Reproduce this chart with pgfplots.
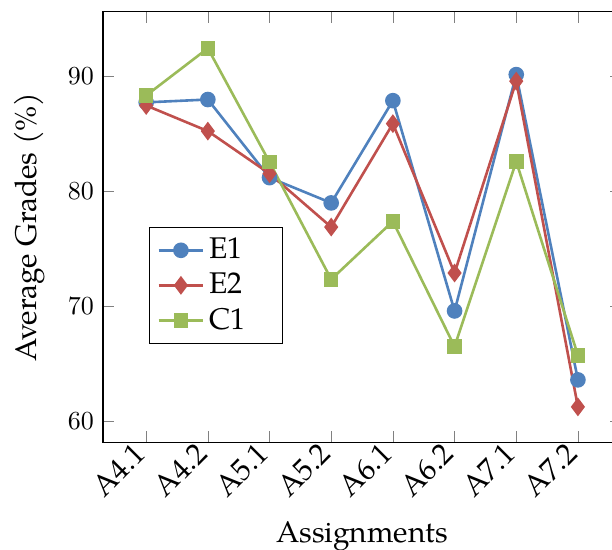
\documentclass[border=0pt]{standalone}
\usepackage{fontspec}
\setmainfont{TeX Gyre Pagella}
\usepackage{pgfplots}
\pgfplotsset{compat=1.18}
\definecolor{cblue}{HTML}{4F81BD}
\definecolor{cred}{HTML}{C0504D}
\definecolor{cgreen}{HTML}{9BBB59}
\newcommand{\lblfont}{\fontsize{11.5}{13.8}\selectfont}
\begin{document}
\begin{tikzpicture}
\begin{axis}[
  scale only axis,
  width=199.2pt, height=165.4pt,
  xmin=-0.7, xmax=7.7,
  ymin=58.18, ymax=95.62,
  xtick={0,1,2,3,4,5,6,7},
  xticklabels={A4.1,A4.2,A5.1,A5.2,A6.1,A6.2,A7.1,A7.2},
  xticklabel style={rotate=45, anchor=east, font=\lblfont},
  ytick={60,70,80,90},
  xlabel={Assignments},
  ylabel={Average Grades (\%)},
  xlabel style={font=\lblfont, at={(axis description cs:0.5,-0.2328)}, anchor=base},
  ylabel style={font=\lblfont, at={(axis description cs:-0.1275,0.5)}, anchor=base},
  legend style={at={(0.089,0.228)}, anchor=south west, draw=black, font=\lblfont},
  legend cell align=left,
  every axis plot/.append style={line width=1pt},
]
\addplot[color=cblue, mark=*, mark size=2.5pt] coordinates {
 (0,87.75) (1,88.0) (2,81.2) (3,79.0) (4,87.9) (5,69.6) (6,90.17) (7,63.6)};
\addlegendentry{E1\hspace*{9pt}}
\addplot[color=cred, mark=diamond*, mark size=2.8pt] coordinates {
 (0,87.48) (1,85.25) (2,81.55) (3,76.9) (4,85.9) (5,72.9) (6,89.6) (7,61.25)};
\addlegendentry{E2\hspace*{9pt}}
\addplot[color=cgreen, mark=square*, mark size=2.3pt] coordinates {
 (0,88.35) (1,92.46) (2,82.55) (3,72.35) (4,77.4) (5,66.5) (6,82.6) (7,65.74)};
\addlegendentry{C1\hspace*{9pt}}
\end{axis}
\pgfresetboundingbox
\path[use as bounding box] ([shift={(-39.6pt,-41.2pt)}]current axis.south west) rectangle ([shift={(-3.5pt,4.6pt)}]current axis.north east);
\end{tikzpicture}
\end{document}
